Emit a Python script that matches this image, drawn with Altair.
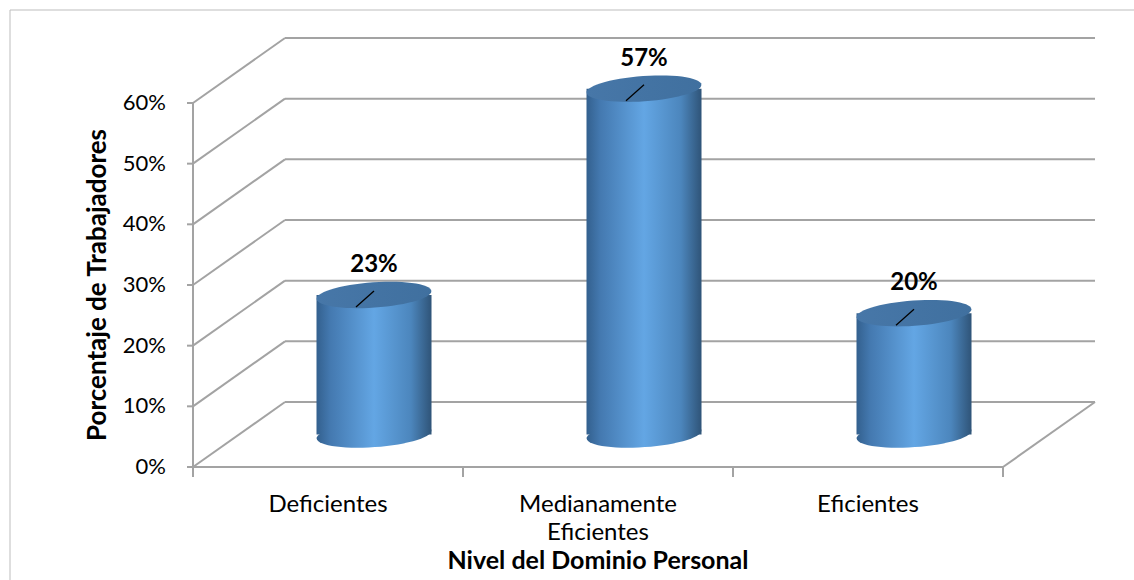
import altair as alt
import pandas as pd
import numpy as np

# ---------------- data ----------------
categories = ["Deficientes", "Medianamente\nEficientes", "Eficientes"]
values = [0.23, 0.57, 0.20]
value_labels = ["23%", "57%", "20%"]
y_ticks = [0.0, 0.1, 0.2, 0.3, 0.4, 0.5, 0.6]
y_tick_labels = ["0%", "10%", "20%", "30%", "40%", "50%", "60%"]
y_title = "Porcentaje de Trabajadores"
x_title = "Nivel del Dominio Personal"

# ---------------- layout (pixels) ----------------
W, H = 1134, 580
X0, Y0 = 193, 467          # front-plane origin
PX_U = 270.0               # px per category slot
PX_V = 606.7               # px per 100 %
DX, DY = 92 / PX_U, 65 / PX_V   # depth offset of back wall
BAR_W = 115                # cylinder diameter px
FONT = "Lato"
GRID = "#a3a3a3"

xs = alt.Scale(domain=[-X0 / PX_U, (W - X0) / PX_U], nice=False, zero=False)
ys = alt.Scale(domain=[(Y0 - H) / PX_V, Y0 / PX_V], nice=False, zero=False)


def X(f="u"):
    return alt.X(f"{f}:Q", scale=xs, axis=None)


def Y(f="v"):
    return alt.Y(f"{f}:Q", scale=ys, axis=None)


n = len(categories)

# wall / floor lines
rows = []
for k in y_ticks:
    rows.append(dict(u=DX, v=k + DY, u2=n + DX, v2=k + DY))        # back grid
    rows.append(dict(u=0, v=k, u2=DX, v2=k + DY))                  # side diagonal
rows.append(dict(u=n, v=0, u2=n + DX, v2=DY))                      # floor right edge
grid_df = pd.DataFrame(rows)

axis_rows = [dict(u=0, v=0, u2=n, v2=0), dict(u=0, v=0, u2=0, v2=y_ticks[-1])]
for k in y_ticks:
    axis_rows.append(dict(u=-6 / PX_U, v=k, u2=0, v2=k))
for i in range(n + 1):
    axis_rows.append(dict(u=i, v=0, u2=i, v2=-10 / PX_V))
axis_df = pd.DataFrame(axis_rows)

grid = alt.Chart(grid_df).mark_rule(color=GRID, strokeWidth=2).encode(
    x=X(), y=Y(), x2="u2:Q", y2="v2:Q")
axes = alt.Chart(axis_df).mark_rule(color=GRID, strokeWidth=2).encode(
    x=X(), y=Y(), x2="u2:Q", y2="v2:Q")

tick_df = pd.DataFrame(dict(u=[0.0] * len(y_ticks), v=y_ticks, t=y_tick_labels))
tick_text = alt.Chart(tick_df).mark_text(
    align="right", baseline="middle", dx=-27, font=FONT, fontSize=22, color="#000000"
).encode(x=X(), y=Y(), text="t:N")

cat_df = pd.DataFrame(dict(u=[i + 0.5 for i in range(n)], v=[0.0] * n, t=categories))
cat_text = alt.Chart(cat_df).mark_text(
    align="center", baseline="alphabetic", dy=45, lineBreak="\n", lineHeight=28,
    font=FONT, fontSize=24, color="#000000"
).encode(x=X(), y=Y(), text="t:N")

xt_df = pd.DataFrame(dict(u=[n / 2], v=[0.0], t=[x_title]))
x_title_text = alt.Chart(xt_df).mark_text(
    align="center", baseline="alphabetic", dy=102, font=FONT, fontSize=25,
    fontWeight="bold", color="#000000"
).encode(x=X(), y=Y(), text="t:N")

yt_df = pd.DataFrame(dict(u=[0.0], v=[y_ticks[-1] / 2], t=[y_title]))
y_title_text = alt.Chart(yt_df).mark_text(
    align="center", baseline="middle", angle=270, dy=-95, font=FONT, fontSize=26,
    fontWeight="bold", color="#000000"
).encode(x=X(), y=Y(), text="t:N")

# ---------------- cylinders ----------------
half = BAR_W / 2 / PX_U
bars_df = pd.DataFrame(dict(
    c=[i + 0.5 + DX / 2 for i in range(n)],
    val=values,
    lab=value_labels,
))
bars_df["left"] = bars_df["c"] - half
bars_df["right"] = bars_df["c"] + half
bars_df["bottom"] = DY / 2
bars_df["top"] = bars_df["val"] + DY / 2
bars_df["lx1"] = bars_df["c"] - 18 / PX_U
bars_df["ly1"] = bars_df["top"] - 12 / PX_V
bars_df["ly2"] = bars_df["top"] + 4 / PX_V


def ellipse_path(ry=0.22, tilt_deg=-4.0, npts=60):
    t = np.linspace(0, 2 * np.pi, npts, endpoint=False)
    x, y = np.cos(t), ry * np.sin(t)
    th = np.deg2rad(tilt_deg)
    xr = x * np.cos(th) - y * np.sin(th)
    yr = x * np.sin(th) + y * np.cos(th)
    pts = [f"{a:.4f},{b:.4f}" for a, b in zip(xr, yr)]
    return "M" + " L".join(pts) + " Z"


ELL = ellipse_path()
body_grad = alt.Gradient(
    gradient="linear", x1=0, y1=0, x2=1, y2=0,
    stops=[
        alt.GradientStop(offset=0.0, color="#33608e"),
        alt.GradientStop(offset=0.12, color="#4479b0"),
        alt.GradientStop(offset=0.5, color="#63a6e4"),
        alt.GradientStop(offset=0.82, color="#4c86bd"),
        alt.GradientStop(offset=1.0, color="#2f5478"),
    ],
)
top_grad = alt.Gradient(
    gradient="linear", x1=0, y1=0, x2=1, y2=0,
    stops=[
        alt.GradientStop(offset=0.0, color="#4777a8"),
        alt.GradientStop(offset=1.0, color="#40709f"),
    ],
)

base = alt.Chart(bars_df)
bottom_ell = base.mark_point(
    shape=ELL, size=BAR_W ** 2, filled=True, fill=body_grad, strokeWidth=0, opacity=1
).encode(x=X("c"), y=Y("bottom"))
body = base.mark_rect(fill=body_grad, strokeWidth=0).encode(
    x=X("left"), x2="right:Q", y=Y("bottom"), y2="top:Q")
top_ell = base.mark_point(
    shape=ELL, size=BAR_W ** 2, filled=True, fill=top_grad, strokeWidth=0, opacity=1
).encode(x=X("c"), y=Y("top"))
leader = base.mark_rule(color="#000000", strokeWidth=1.3).encode(
    x=X("lx1"), y=Y("ly1"), x2="c:Q", y2="ly2:Q")
val_text = base.mark_text(
    align="center", baseline="alphabetic", dy=-23, font=FONT, fontSize=24,
    fontWeight="bold", color="#000000"
).encode(x=X("c"), y=Y("top"), text="lab:N")

# ---------------- outer frame ----------------
frame_top = alt.Chart(pd.DataFrame({"a": [0]})).mark_rule(color="#bdbdbd", strokeWidth=1).encode(
    x=alt.value(10), x2=alt.value(W), y=alt.value(10))
frame_left = alt.Chart(pd.DataFrame({"a": [0]})).mark_rule(color="#bdbdbd", strokeWidth=1).encode(
    x=alt.value(10), y=alt.value(10), y2=alt.value(H))

chart = alt.layer(
    frame_top, frame_left, grid, axes, tick_text, cat_text, x_title_text, y_title_text,
    bottom_ell, body, top_ell, leader, val_text,
).properties(
    width=W, height=H, autosize=alt.AutoSizeParams(type="none"), padding=0,
    background="#ffffff",
).configure_view(stroke=None)

chart.save("out.html", embed_options={"renderer": "svg", "actions": False})
